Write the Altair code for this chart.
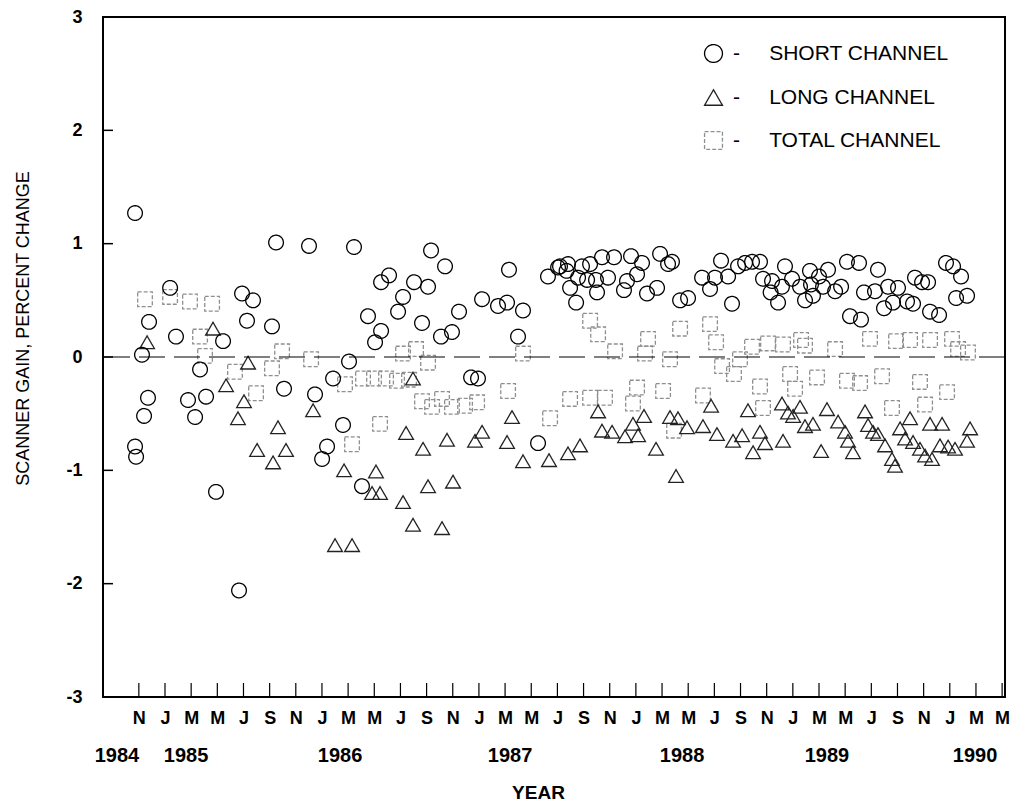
import altair as alt
import pandas as pd

FONT = "Liberation Sans"
NARROW = "Liberation Sans Narrow, Liberation Sans"

# x positions are months counted from January 1984 (10 = November 1984)
short_month = [
    9.71, 10.24, 10.78, 10.70, 10.40, 9.71, 9.79, 12.39, 12.84, 13.76,
    14.30, 14.68, 15.14, 15.90, 16.44, 17.66, 17.89, 18.27, 18.73, 20.18,
    20.49, 21.10, 23.01, 23.47, 24.01, 24.39, 24.85, 25.61, 26.07, 26.45,
    27.06, 27.52, 28.06, 28.52, 28.52, 29.13, 29.82, 30.20, 31.04, 31.65,
    32.11, 32.34, 33.10, 33.41, 33.94, 34.48, 35.40, 35.93, 36.24, 37.46,
    38.15, 38.30, 38.99, 39.37, 40.52, 41.28, 42.05, 42.20, 42.81, 42.70,
    42.97, 43.43, 43.58, 43.88, 44.27, 44.50, 44.95, 45.03, 45.41, 45.87,
    46.33, 47.09, 47.32, 47.63, 48.09, 48.47, 48.85, 49.62, 49.85, 50.46,
    50.76, 51.38, 51.99, 53.06, 53.67, 54.05, 54.51, 55.05, 55.35, 55.81,
    56.35, 56.88, 57.49, 57.72, 58.41, 58.30, 58.87, 59.17, 59.40, 59.94,
    60.55, 60.93, 61.31, 61.39, 61.54, 62.00, 62.31, 62.69, 63.23, 63.69,
    64.14, 64.37, 65.06, 65.21, 65.44, 66.28, 66.51, 66.97, 67.28, 67.66,
    68.04, 68.73, 69.19, 69.34, 69.88, 70.34, 70.49, 71.18, 71.71, 72.25,
    72.48, 72.86, 73.32,
]
short_value = [
    1.27, 0.02, 0.31, -0.36, -0.52, -0.79, -0.88, 0.61, 0.18, -0.38,
    -0.53, -0.11, -0.35, -1.19, 0.14, -2.06, 0.56, 0.32, 0.50, 0.27,
    1.01, -0.28, 0.98, -0.33, -0.90, -0.79, -0.19, -0.60, -0.04, 0.97,
    -1.14, 0.36, 0.13, 0.23, 0.66, 0.72, 0.40, 0.53, 0.66, 0.30,
    0.62, 0.94, 0.18, 0.80, 0.22, 0.40, -0.18, -0.19, 0.51, 0.45,
    0.48, 0.77, 0.18, 0.41, -0.76, 0.71, 0.79, 0.80, 0.82, 0.76,
    0.61, 0.48, 0.70, 0.80, 0.68, 0.82, 0.68, 0.57, 0.88, 0.70,
    0.88, 0.59, 0.67, 0.89, 0.73, 0.83, 0.56, 0.61, 0.91, 0.82,
    0.84, 0.50, 0.52, 0.70, 0.60, 0.70, 0.85, 0.71, 0.47, 0.80,
    0.83, 0.84, 0.84, 0.69, 0.67, 0.57, 0.48, 0.62, 0.80, 0.69,
    0.62, 0.50, 0.76, 0.64, 0.54, 0.71, 0.62, 0.77, 0.58, 0.62,
    0.84, 0.36, 0.83, 0.33, 0.57, 0.58, 0.77, 0.43, 0.62, 0.48,
    0.61, 0.49, 0.47, 0.70, 0.66, 0.66, 0.40, 0.37, 0.83, 0.80,
    0.52, 0.71, 0.54,
]

long_month = [
    10.63, 15.67, 16.67, 17.58, 18.04, 18.35, 19.04, 20.26, 20.64, 21.25,
    23.32, 25.00, 25.69, 26.30, 27.83, 28.13, 28.44, 30.20, 30.43, 30.96,
    30.96, 31.73, 32.11, 33.18, 33.56, 34.02, 35.70, 36.24, 38.15, 38.53,
    39.37, 41.36, 42.81, 43.73, 45.11, 45.41, 46.18, 47.17, 47.78, 48.17,
    48.62, 49.54, 50.61, 51.07, 51.22, 51.91, 53.13, 53.75, 54.20, 55.43,
    56.12, 56.57, 56.96, 57.49, 57.87, 59.17, 59.25, 59.63, 60.02, 60.55,
    60.93, 61.54, 62.16, 62.61, 63.46, 63.99, 64.22, 64.60, 65.52, 66.13,
    66.51, 67.05, 67.58, 67.81, 68.20, 68.58, 68.96, 69.19, 69.72, 70.11,
    70.49, 70.64, 71.25, 71.41, 71.87, 72.40, 73.32, 73.55, 65.75,
]
long_value = [
    0.13, 0.25, -0.25, -0.54, -0.39, -0.05, -0.82, -0.93, -0.62, -0.82,
    -0.47, -1.66, -1.00, -1.66, -1.20, -1.01, -1.20, -1.28, -0.67, -0.19,
    -1.48, -0.81, -1.14, -1.51, -0.73, -1.10, -0.74, -0.66, -0.75, -0.53,
    -0.92, -0.91, -0.85, -0.78, -0.48, -0.65, -0.66, -0.70, -0.59, -0.69,
    -0.52, -0.81, -0.53, -1.05, -0.54, -0.62, -0.61, -0.43, -0.68, -0.74,
    -0.69, -0.47, -0.84, -0.66, -0.76, -0.41, -0.74, -0.49, -0.52, -0.44,
    -0.61, -0.59, -0.83, -0.46, -0.57, -0.66, -0.74, -0.84, -0.48, -0.66,
    -0.68, -0.78, -0.90, -0.96, -0.63, -0.72, -0.54, -0.75, -0.81, -0.87,
    -0.59, -0.90, -0.78, -0.59, -0.79, -0.81, -0.74, -0.63, -0.60,
]

total_month = [
    10.47, 12.39, 13.91, 15.60, 14.68, 15.06, 17.35, 18.96, 20.18, 20.95,
    23.17, 25.76, 26.30, 27.14, 27.98, 28.90, 29.74, 30.66, 28.44, 30.20,
    31.19, 32.11, 31.65, 32.42, 33.18, 33.94, 34.94, 35.86, 38.23, 39.37,
    41.44, 42.97, 44.50, 45.11, 44.50, 45.64, 46.41, 47.78, 48.09, 48.70,
    48.93, 50.08, 50.61, 50.92, 51.38, 53.13, 53.67, 54.13, 54.59, 55.50,
    55.96, 56.88, 57.49, 57.72, 58.10, 59.25, 59.79, 60.17, 60.93, 61.85,
    63.23, 64.14, 65.14, 65.90, 66.82, 67.58, 67.89, 68.96, 69.72, 70.11,
    70.49, 71.79, 72.17, 72.63, 73.39, 60.63,
]
total_value = [
    0.51, 0.53, 0.49, 0.47, 0.18, 0.01, -0.13, -0.32, -0.10, 0.05,
    -0.02, -0.24, -0.77, -0.19, -0.19, -0.19, -0.21, -0.20, -0.59, 0.03,
    0.07, -0.05, -0.39, -0.44, -0.37, -0.44, -0.43, -0.40, -0.30, 0.03,
    -0.54, -0.37, 0.32, 0.20, -0.36, -0.36, 0.05, -0.41, -0.27, 0.03,
    0.16, -0.30, -0.02, -0.65, 0.25, -0.34, 0.29, 0.13, -0.08, -0.15,
    -0.02, 0.09, -0.26, -0.45, 0.12, 0.11, -0.15, -0.28, 0.10, -0.18,
    0.07, -0.21, -0.23, 0.16, -0.17, -0.45, 0.14, 0.15, -0.22, -0.42,
    0.15, -0.31, 0.16, 0.07, 0.04, 0.15,
]

series_names = ["SHORT CHANNEL", "LONG CHANNEL", "TOTAL CHANNEL"]
tick_months = list(range(10, 77, 2))
y_ticks = [-3, -2, -1, 0, 1, 2, 3]
year_labels = ["1984", "1985", "1986", "1987", "1988", "1989", "1990"]
year_month = [8.33, 13.61, 25.38, 38.38, 51.53, 62.61, 73.93]

W, H = 902, 680

df = pd.concat([
    pd.DataFrame({"month": total_month, "value": total_value, "series": series_names[2]}),
    pd.DataFrame({"month": long_month, "value": long_value, "series": series_names[1]}),
    pd.DataFrame({"month": short_month, "value": short_value, "series": series_names[0]}),
], ignore_index=True)

xscale = alt.Scale(domain=[7.26, 76.22], nice=False, zero=False)
yscale = alt.Scale(domain=[-3, 3], nice=False, zero=False)

x_axis = alt.Axis(
    values=tick_months,
    labelExpr="['J','F','M','A','M','J','J','A','S','O','N','D'][datum.value % 12]",
    ticks=False, domain=False, grid=False,
    labelFont=FONT, labelFontSize=18, labelFontWeight="bold", labelColor="black",
    labelPadding=12, labelFlush=False, labelOverlap=False,
    title="YEAR", titleFont=NARROW, titleFontSize=19, titleFontWeight="bold",
    titleColor="black", titleX=435, titleY=101, titleAlign="center",
    titleBaseline="alphabetic",
)
y_axis = alt.Axis(
    values=y_ticks,
    labelExpr="datum.value < 0 ? '-' + abs(datum.value) : '' + datum.value",
    ticks=False, domain=False, grid=False,
    labelFont=FONT, labelFontSize=18, labelFontWeight="bold", labelColor="black",
    labelPadding=21, labelFlush=False, labelOverlap=False,
    title="SCANNER GAIN, PERCENT CHANGE", titleFont=NARROW, titleFontSize=18,
    titleFontWeight="normal", titleColor="black", titleAngle=270,
    titleX=-80, titleY=311, titleAlign="center", titleBaseline="middle",
)

legend = alt.Legend(
    title=None, orient="none", legendX=600, legendY=26, padding=0,
    symbolSize=320, symbolStrokeWidth=1.3, labelFont=FONT, labelFontSize=21,
    labelColor="black", labelOffset=9, rowPadding=20, labelLimit=500,
    labelExpr="'-\u00a0\u00a0\u00a0\u00a0\u00a0' + datum.label",
)

X = alt.X("month:Q", scale=xscale, axis=x_axis)
Y = alt.Y("value:Q", scale=yscale, axis=y_axis)

points = alt.Chart(df).mark_point(filled=False, opacity=1, size=215, strokeWidth=1.3).encode(
    x=X,
    y=Y,
    shape=alt.Shape("series:N", sort=series_names,
                    scale=alt.Scale(domain=series_names, range=["circle", "triangle-up", "square"]),
                    legend=legend),
    stroke=alt.Stroke("series:N", sort=series_names,
                      scale=alt.Scale(domain=series_names, range=["#000000", "#222222", "#8f8f8f"])),
    strokeDash=alt.StrokeDash("series:N", sort=series_names,
                              scale=alt.Scale(domain=series_names, range=[[1, 0], [1, 0], [4, 2]])),
)

zero = alt.Chart(pd.DataFrame({"value": [0]})).mark_rule(
    color="black", strokeWidth=1.2, strokeDash=[26, 9]
).encode(y=Y)

y_tick_marks = alt.Chart(pd.DataFrame({"value": y_ticks[1:-1]})).mark_rule(
    color="black", strokeWidth=1.5
).encode(y=Y, x=alt.value(0), x2=alt.value(10))

x_tick_marks = alt.Chart(pd.DataFrame({"month": tick_months})).mark_rule(
    color="black", strokeWidth=1.2
).encode(x=X, y=alt.value(H), y2=alt.value(H - 14))

years = alt.Chart(pd.DataFrame({"month": year_month, "label": year_labels})).mark_text(
    font=FONT, fontSize=20, fontWeight="bold", baseline="middle", align="center",
    color="black"
).encode(x=X, y=alt.value(H + 59), text="label:N")

chart = alt.layer(points, zero, y_tick_marks, x_tick_marks, years).properties(
    width=W, height=H,
    autosize=alt.AutoSizeParams(type="none"),
    padding={"left": 103, "top": 17, "right": 9, "bottom": 110},
    background="white",
).configure(font=FONT).configure_view(stroke="black", strokeWidth=2)

chart.save("out.html", embed_options={"renderer": "svg", "actions": False})
